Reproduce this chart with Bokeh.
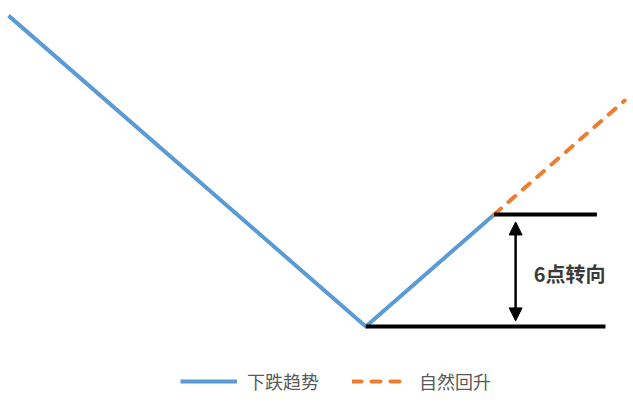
from bokeh.plotting import figure
from bokeh.models import Range1d, Legend, LegendItem, Arrow, NormalHead, Label
from bokeh.embed import file_html
from bokeh.resources import INLINE

# data (price units; 6-point reversal)
down_x = [0.0, 16.7]
down_y = [16.65, 0.0]
rally_x = [16.7, 22.7]
rally_y = [0.0, 6.0]
recover_x = [22.7, 28.8]
recover_y = [6.0, 12.1]
top_level_x = [22.7, 27.5]
top_level_y = [6.0, 6.0]
low_level_x = [16.7, 27.9]
low_level_y = [0.0, 0.0]
arrow_x = 23.7
arrow_y = [0.3, 5.6]
note_text = "6点转向"
note_pos = (24.55, 2.85)
legend_labels = ["下跌趋势", "自然回升"]

BLUE = "#5b9bd5"
ORANGE = "#ed7d31"

p = figure(width=633, height=402, output_backend="svg", toolbar_location=None,
           x_range=Range1d(-0.374, 29.21), y_range=Range1d(-4.07, 17.46),
           min_border=0, min_border_left=0, min_border_right=0,
           min_border_top=0, min_border_bottom=0)
p.axis.visible = False
p.grid.visible = False
p.outline_line_color = None
p.background_fill_color = "white"
p.border_fill_color = "white"

r_down = p.line(down_x + rally_x[1:], down_y + rally_y[1:], line_color=BLUE,
                line_width=4, line_join="round")
r_up = p.line(recover_x, recover_y, line_color=ORANGE, line_width=4,
              line_dash="9 10", line_cap="round")
p.line(top_level_x, top_level_y, line_color="black", line_width=4)
p.line(low_level_x, low_level_y, line_color="black", line_width=4)

p.add_layout(Arrow(x_start=arrow_x, y_start=arrow_y[0], x_end=arrow_x, y_end=arrow_y[1],
                   line_color="black", line_width=2.5,
                   start=NormalHead(size=13, fill_color="black", line_color="black"),
                   end=NormalHead(size=13, fill_color="black", line_color="black")))

p.add_layout(Label(x=note_pos[0], y=note_pos[1], text=note_text,
                   text_font="Noto Sans CJK SC", text_font_size="20px",
                   text_font_style="bold", text_color="#3a3a3a",
                   text_baseline="middle", text_align="left"))

legend = Legend(items=[LegendItem(label=legend_labels[0], renderers=[r_down]),
                       LegendItem(label=legend_labels[1], renderers=[r_up])],
                orientation="horizontal", location=(180, 8),
                glyph_width=57, glyph_height=20, label_standoff=10,
                spacing=33, padding=0, margin=0,
                label_text_font="Noto Sans CJK SC", label_text_font_size="18px",
                label_text_color="#595959",
                border_line_color=None, background_fill_alpha=0)
p.add_layout(legend)

open("out.html", "w").write(file_html(p, INLINE))
